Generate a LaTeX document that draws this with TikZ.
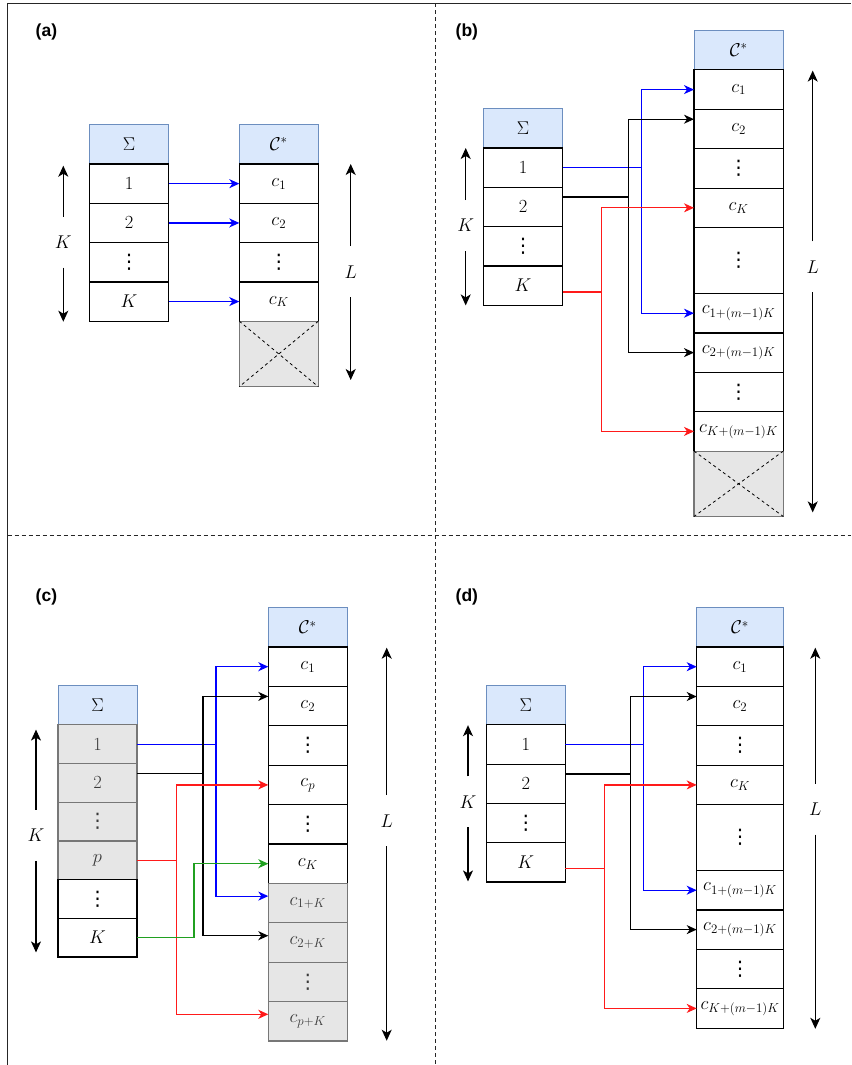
\RequirePackage{fix-cm}
\documentclass[tikz,border=0pt]{standalone}
\usepackage{fontspec}
\setsansfont{Liberation Sans}
\newfontfamily\dvs{DejaVu Sans}
\usetikzlibrary{arrows.meta}
\definecolor{hdrfill}{HTML}{DAE8FC}
\definecolor{hdrline}{HTML}{6C8EBF}
\definecolor{gfill}{HTML}{E6E6E6}
\definecolor{gline}{HTML}{777777}
\definecolor{gtext}{HTML}{3A3A3A}
\definecolor{grn}{HTML}{20A020}
\definecolor{myred}{HTML}{FF1A1A}
\newcommand\mathsz{\fontsize{18.5}{20}\selectfont}
\newcommand\ttlsz{\sffamily\bfseries\fontsize{17.5}{20}\selectfont}
\newcommand\myvd{{\dvs\fontsize{20}{22}\selectfont ⋮}}
\tikzset{
  box/.style={draw=black, line width=1.2pt, fill=white, inner sep=0pt, outer sep=0pt,
              anchor=north west, font=\mathsz, minimum height=39.4pt},
  hdr/.style={box, draw=hdrline, fill=hdrfill, line width=1pt},
  gbox/.style={box, draw=gline, fill=gfill, text=gtext},
  xbox/.style={box, draw=gline, fill=gfill},
  xline/.style={line width=0.8pt, dash pattern=on 3pt off 3pt},
  con/.style={line width=1.2pt, -{Stealth[length=10pt,width=9pt,inset=3pt]}},
  dbl/.style={line width=1.1pt, -{Stealth[length=11pt,width=10pt,inset=3pt]}},
  lbl/.style={font=\mathsz, minimum height=51pt, inner sep=0pt, outer sep=0pt},
  ttl/.style={font=\ttlsz, anchor=west, inner sep=0pt},
  frame/.style={line width=1pt, draw=black!85},
  sep/.style={line width=0.9pt, draw=black!85, dash pattern=on 4pt off 3pt},
  wa/.style={minimum width=79pt},
  wb/.style={minimum width=79.4pt},
  wc/.style={minimum width=89.3pt},
  wd/.style={minimum width=86.6pt}
}
\begin{document}
\begin{tikzpicture}[x=1pt,y=-1pt]
\useasboundingbox (0,0) rectangle (851,1065);
% frame and separators
\draw[frame] (7.5,1065) -- (7.5,3.3) -- (851,3.3);
\draw[sep] (435,3.3) -- (435,1065);
\draw[sep] (7.5,535) -- (851,535);
% titles
\node[ttl] (ta) at (35.5,32) {(a)};
\node[ttl] (tb) at (455.5,32) {(b)};
\node[ttl] (tc) at (35.5,596.5) {(c)};
\node[ttl] (td) at (455.5,596.5) {(d)};

% ================= (a)
\node[hdr,wa,minimum height=40pt] (as0) at (89.5,124) {$\Sigma$};
\node[box,wa,minimum height=39.3pt] (as1) at (as0.south west) {$1$};
\node[box,wa,minimum height=39.3pt] (as2) at (as1.south west) {$2$};
\node[box,wa,minimum height=39.3pt] (as3) at (as2.south west) {\myvd};
\node[box,wa,minimum height=39.3pt] (as4) at (as3.south west) {$K$};
\node[hdr,wa,minimum height=40pt] (ac0) at (239.3,124) {$\mathcal{C}^*$};
\node[box,wa,minimum height=39.3pt] (ac1) at (ac0.south west) {$c_1$};
\node[box,wa,minimum height=39.3pt] (ac2) at (ac1.south west) {$c_2$};
\node[box,wa,minimum height=39.3pt] (ac3) at (ac2.south west) {\myvd};
\node[box,wa,minimum height=39.3pt] (ac4) at (ac3.south west) {$c_K$};
\node[xbox,wa,minimum height=65.5pt] (ac5) at (ac4.south west) {};
\draw[xline] (ac5.north west) -- (ac5.south east) (ac5.north east) -- (ac5.south west);
\draw[con,blue] (as1.east) -- (ac1.west);
\draw[con,blue] (as2.east) -- (ac2.west);
\draw[con,blue] (as4.east) -- (ac4.west);
\node[lbl] (aK) at (63.3,242) {$K$};
\coordinate (aKt) at (63.3,165.7);
\coordinate (aKb) at (63.3,321.7);
\draw[dbl] (aK.north) -- (aKt);
\draw[dbl] (aK.south) -- (aKb);
\node[lbl] (aL) at (350.7,271.7) {$L$};
\coordinate (aLt) at (350.7,164);
\coordinate (aLb) at (350.7,380);
\draw[dbl] (aL.north) -- (aLt);
\draw[dbl] (aL.south) -- (aLb);

% ================= (b)
\node[hdr,wb,minimum height=39.5pt] (bs0) at (483.3,108.5) {$\Sigma$};
\node[box,wb,minimum height=39.3pt] (bs1) at (bs0.south west) {$1$};
\node[box,wb,minimum height=39.3pt] (bs2) at (bs1.south west) {$2$};
\node[box,wb,minimum height=39.3pt] (bs3) at (bs2.south west) {\myvd};
\node[box,wb,minimum height=39.3pt] (bs4) at (bs3.south west) {$K$};
\node[hdr,wc,minimum height=39.6pt] (bc0) at (694,30.3) {$\mathcal{C}^*$};
\node[box,wc] (bc1) at (bc0.south west) {$c_1$};
\node[box,wc] (bc2) at (bc1.south west) {$c_2$};
\node[box,wc] (bc3) at (bc2.south west) {\myvd};
\node[box,wc] (bc4) at (bc3.south west) {$c_K$};
\node[box,wc,minimum height=66pt] (bc5) at (bc4.south west) {\myvd};
\node[box,wc] (bc6) at (bc5.south west) {$c_{1+(m-1)K}$};
\node[box,wc] (bc7) at (bc6.south west) {$c_{2+(m-1)K}$};
\node[box,wc] (bc8) at (bc7.south west) {\myvd};
\node[box,wc] (bc9) at (bc8.south west) {$c_{K+(m-1)K}$};
\node[xbox,wc,minimum height=65.4pt] (bc10) at (bc9.south west) {};
\draw[xline] (bc10.north west) -- (bc10.south east) (bc10.north east) -- (bc10.south west);
\coordinate (bxb) at (641.3,0);
\coordinate (bxk) at (628.3,0);
\coordinate (bxr) at (601.7,0);
\coordinate (bs2o) at ([yshift=10pt]bs2.east);
\coordinate (bs4o) at ([yshift=-6.5pt]bs4.east);
\coordinate (bc2i) at ([yshift=9.8pt]bc2.west);
\draw[con,blue] (bs1.east) -- (bs1.east -| bxb) |- (bc1.west);
\draw[con,blue] (bs1.east) -- (bs1.east -| bxb) |- (bc6.west);
\draw[con] (bs2o) -- (bs2o -| bxk) |- (bc2i);
\draw[con] (bs2o) -- (bs2o -| bxk) |- (bc7.west);
\draw[con,myred] (bs4o) -- (bs4o -| bxr) |- (bc4.west);
\draw[con,myred] (bs4o) -- (bs4o -| bxr) |- (bc9.west);
\node[lbl] (bK) at (465.7,225.5) {$K$};
\coordinate (bKt) at (465.7,148);
\coordinate (bKb) at (465.7,305.4);
\draw[dbl] (bK.north) -- (bKt);
\draw[dbl] (bK.south) -- (bKb);
\node[lbl] (bL) at (812.7,266.9) {$L$};
\coordinate (bLt) at (812.7,70.6);
\coordinate (bLb) at (812.7,512.4);
\draw[dbl] (bL.north) -- (bLt);
\draw[dbl] (bL.south) -- (bLb);

% ================= (c)
\node[hdr,wa,minimum height=39.6pt] (cs0) at (58,685.2) {$\Sigma$};
\node[gbox,wa,minimum height=38.7pt] (cs1) at (cs0.south west) {$1$};
\node[gbox,wa,minimum height=38.7pt] (cs2) at (cs1.south west) {$2$};
\node[gbox,wa,minimum height=38.7pt] (cs3) at (cs2.south west) {\myvd};
\node[gbox,wa,minimum height=38.7pt] (cs4) at (cs3.south west) {$p$};
\node[box,wa,minimum height=38.7pt] (cs5) at (cs4.south west) {\myvd};
\node[box,wa,minimum height=38.7pt] (cs6) at (cs5.south west) {$K$};
\node[hdr,wa,minimum height=39.2pt] (cc0) at (268.3,607.8) {$\mathcal{C}^*$};
\node[box,wa] (cc1) at (cc0.south west) {$c_1$};
\node[box,wa] (cc2) at (cc1.south west) {$c_2$};
\node[box,wa] (cc3) at (cc2.south west) {\myvd};
\node[box,wa] (cc4) at (cc3.south west) {$c_p$};
\node[box,wa] (cc5) at (cc4.south west) {\myvd};
\node[box,wa] (cc6) at (cc5.south west) {$c_K$};
\node[gbox,wa] (cc7) at (cc6.south west) {$c_{1+K}$};
\node[gbox,wa] (cc8) at (cc7.south west) {$c_{2+K}$};
\node[gbox,wa] (cc9) at (cc8.south west) {\myvd};
\node[gbox,wa] (cc10) at (cc9.south west) {$c_{p+K}$};
\coordinate (cxb) at (216,0);
\coordinate (cxk) at (203,0);
\coordinate (cxr) at (176.7,0);
\coordinate (cxg) at (194,0);
\coordinate (cs2o) at ([yshift=9.4pt]cs2.east);
\coordinate (cc2i) at ([yshift=9.7pt]cc2.west);
\coordinate (cc7i) at ([yshift=7pt]cc7.west);
\coordinate (cc8i) at ([yshift=6.8pt]cc8.west);
\coordinate (cc10i) at ([yshift=7pt]cc10.west);
\draw[con,blue] (cs1.east) -- (cs1.east -| cxb) |- (cc1.west);
\draw[con,blue] (cs1.east) -- (cs1.east -| cxb) |- (cc7i);
\draw[con] (cs2o) -- (cs2o -| cxk) |- (cc2i);
\draw[con] (cs2o) -- (cs2o -| cxk) |- (cc8i);
\draw[con,myred] (cs4.east) -- (cs4.east -| cxr) |- (cc4.west);
\draw[con,myred] (cs4.east) -- (cs4.east -| cxr) |- (cc10i);
\draw[con,grn] (cs6.east) -- (cs6.east -| cxg) |- (cc6.west);
\node[lbl] (cK) at (36,835.4) {$K$};
\coordinate (cKt) at (36,729.6);
\coordinate (cKb) at (36,952.4);
\draw[dbl] (cK.north) -- (cKt);
\draw[dbl] (cK.south) -- (cKb);
\node[lbl] (cL) at (386.7,820.7) {$L$};
\coordinate (cLt) at (386.7,647.7);
\coordinate (cLb) at (386.7,1040.7);
\draw[dbl] (cL.north) -- (cLt);
\draw[dbl] (cL.south) -- (cLb);

% ================= (d)
\node[hdr,wa,minimum height=39.6pt] (ds0) at (486.3,685.2) {$\Sigma$};
\node[box,wa,minimum height=39.3pt] (ds1) at (ds0.south west) {$1$};
\node[box,wa,minimum height=39.3pt] (ds2) at (ds1.south west) {$2$};
\node[box,wa,minimum height=39.3pt] (ds3) at (ds2.south west) {\myvd};
\node[box,wa,minimum height=39.3pt] (ds4) at (ds3.south west) {$K$};
\node[hdr,wd,minimum height=39.2pt] (dc0) at (696.7,607.8) {$\mathcal{C}^*$};
\node[box,wd] (dc1) at (dc0.south west) {$c_1$};
\node[box,wd] (dc2) at (dc1.south west) {$c_2$};
\node[box,wd] (dc3) at (dc2.south west) {\myvd};
\node[box,wd] (dc4) at (dc3.south west) {$c_K$};
\node[box,wd,minimum height=65.9pt] (dc5) at (dc4.south west) {\myvd};
\node[box,wd] (dc6) at (dc5.south west) {$c_{1+(m-1)K}$};
\node[box,wd] (dc7) at (dc6.south west) {$c_{2+(m-1)K}$};
\node[box,wd] (dc8) at (dc7.south west) {\myvd};
\node[box,wd] (dc9) at (dc8.south west) {$c_{K+(m-1)K}$};
\coordinate (dxb) at (643.7,0);
\coordinate (dxk) at (630.7,0);
\coordinate (dxr) at (604.3,0);
\coordinate (ds2o) at ([yshift=9.7pt]ds2.east);
\coordinate (ds4o) at ([yshift=-6.5pt]ds4.east);
\coordinate (dc2i) at ([yshift=9.6pt]dc2.west);
\draw[con,blue] (ds1.east) -- (ds1.east -| dxb) |- (dc1.west);
\draw[con,blue] (ds1.east) -- (ds1.east -| dxb) |- (dc6.west);
\draw[con] (ds2o) -- (ds2o -| dxk) |- (dc2i);
\draw[con] (ds2o) -- (ds2o -| dxk) |- (dc7.west);
\draw[con,myred] (ds4o) -- (ds4o -| dxr) |- (dc4.west);
\draw[con,myred] (ds4o) -- (ds4o -| dxr) |- (dc9.west);
\node[lbl] (dK) at (468,801.9) {$K$};
\coordinate (dKt) at (468,725.2);
\coordinate (dKb) at (468,881.4);
\draw[dbl] (dK.north) -- (dKt);
\draw[dbl] (dK.south) -- (dKb);
\node[lbl] (dL) at (815.3,809.1) {$L$};
\coordinate (dLt) at (815.3,647.7);
\coordinate (dLb) at (815.3,1028.8);
\draw[dbl] (dL.north) -- (dLt);
\draw[dbl] (dL.south) -- (dLb);
\end{tikzpicture}
\end{document}
